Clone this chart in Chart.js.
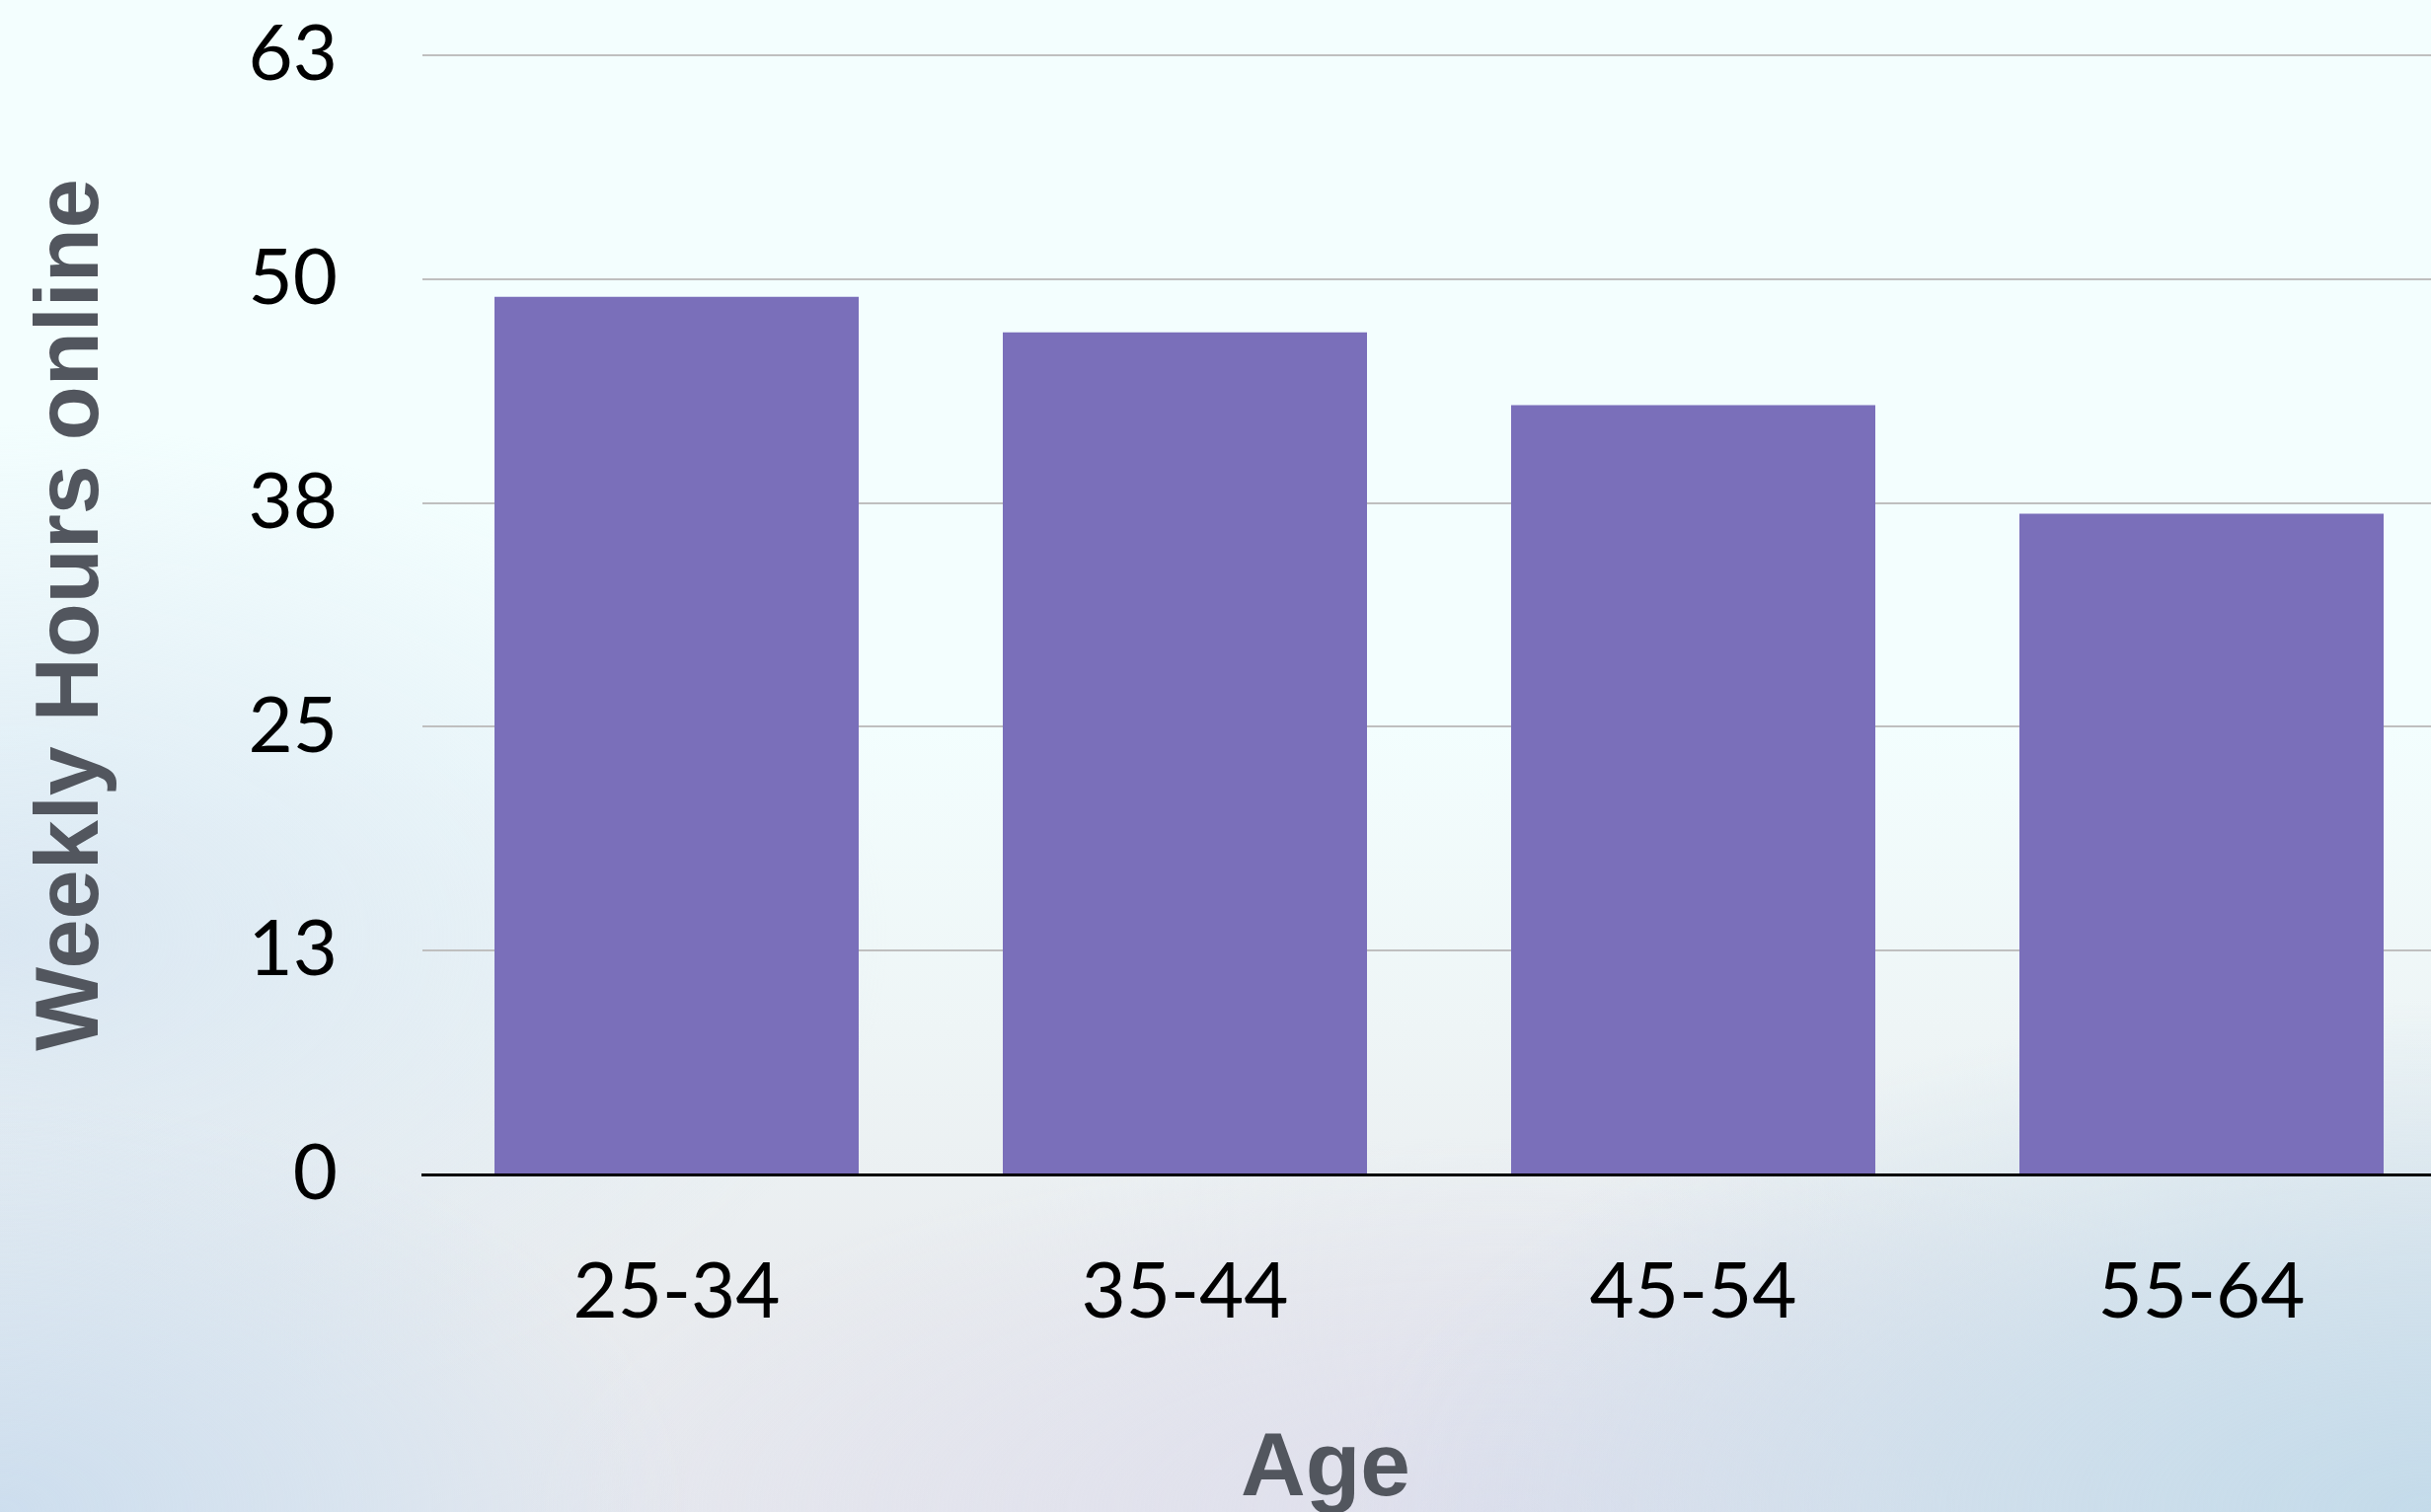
<!DOCTYPE html>
<html><head><meta charset="utf-8">
<script src="https://cdn.jsdelivr.net/npm/chart.js@4.4.1/dist/chart.umd.min.js"></script>
<style>
html,body{margin:0;padding:0;overflow:hidden;width:2463px;height:1532px;}
body{
  background:
    radial-gradient(ellipse 1100px 520px at 100% 100%, rgba(196,219,234,1) 0%, rgba(200,221,235,0.7) 45%, rgba(220,230,240,0) 100%),
    radial-gradient(ellipse 700px 420px at 0% 100%, rgba(205,222,238,1) 0%, rgba(210,226,240,0.6) 55%, rgba(220,232,242,0) 100%),
    radial-gradient(ellipse 900px 520px at 0% 62%, rgba(214,228,241,0.85) 0%, rgba(225,236,244,0) 100%),
    radial-gradient(ellipse 1000px 380px at 62% 100%, rgba(222,222,236,0.9) 0%, rgba(228,228,238,0) 100%),
    linear-gradient(to bottom, #f3fefe 0%, #f3fefe 48%, #eef5f6 68%, #e9ecef 85%, #e6e8ee 100%);
}
#wrap{position:absolute;left:0;top:0;width:2686px;height:1532px;}
canvas{display:block;}
</style></head><body>
<div id="wrap"><canvas id="c" width="2686" height="1532"></canvas></div>
<script>
const categories = ['25-34', '35-44', '45-54', '55-64'];
const weeklyHours = [49.4, 47.4, 43.3, 37.2];
const yTickValues = [0, 12.6, 25.2, 37.8, 50.4, 63];
const xTitle = 'Age';
const yTitle = 'Weekly Hours online';

const tickFont = {family: 'Lato, "Noto Sans", sans-serif', size: 78};
const titleFont = {family: '"Liberation Sans", Arial, sans-serif', size: 91, weight: 'bold'};

function noPad(s) { s.paddingTop = 0; s.paddingBottom = 0; }

new Chart(document.getElementById('c'), {
  type: 'bar',
  data: {
    labels: categories,
    datasets: [{
      data: weeklyHours,
      backgroundColor: '#7a6fba',
      borderWidth: 0,
      barPercentage: 0.7165,
      categoryPercentage: 1
    }]
  },
  options: {
    responsive: false,
    animation: false,
    devicePixelRatio: 1,
    layout: {padding: {top: 56, left: 0, right: 0, bottom: 0}},
    plugins: {
      legend: {display: false},
      tooltip: {enabled: false},
      title: {
        display: true, text: xTitle, position: 'bottom', align: 'center',
        color: '#52565e',
        font: Object.assign({}, titleFont, {lineHeight: 0.9}),
        padding: {top: 0, bottom: 1.5}
      }
    },
    scales: {
      x: {
        grid: {display: false, drawTicks: false},
        border: {display: true, color: '#000000', width: 3},
        ticks: {color: '#000000', font: tickFont, padding: 73},
        afterFit(s) { s.height = 258.6; s.paddingLeft = 0; s.paddingRight = 0; }
      },
      y: {
        position: 'left',
        min: 0, max: 63,
        afterBuildTicks(s) { s.ticks = yTickValues.map(v => ({value: v})); },
        ticks: {color: '#000000', font: tickFont, padding: 86, callback: v => String(Math.round(v))},
        grid: {color: '#bfbfbf', lineWidth: 2, drawTicks: false},
        border: {display: false},
        title: {display: true, text: yTitle, color: '#52565e', font: Object.assign({}, titleFont, {size: 90}), padding: {top: 20, bottom: 0}},
        afterFit(s) { s.width = 428; noPad(s); }
      },
      yR: {
        position: 'right',
        display: true,
        grid: {display: false, drawTicks: false},
        border: {display: false},
        ticks: {display: false},
        afterFit(s) { s.width = 198; noPad(s); }
      }
    }
  }
});
</script>
</body></html>
